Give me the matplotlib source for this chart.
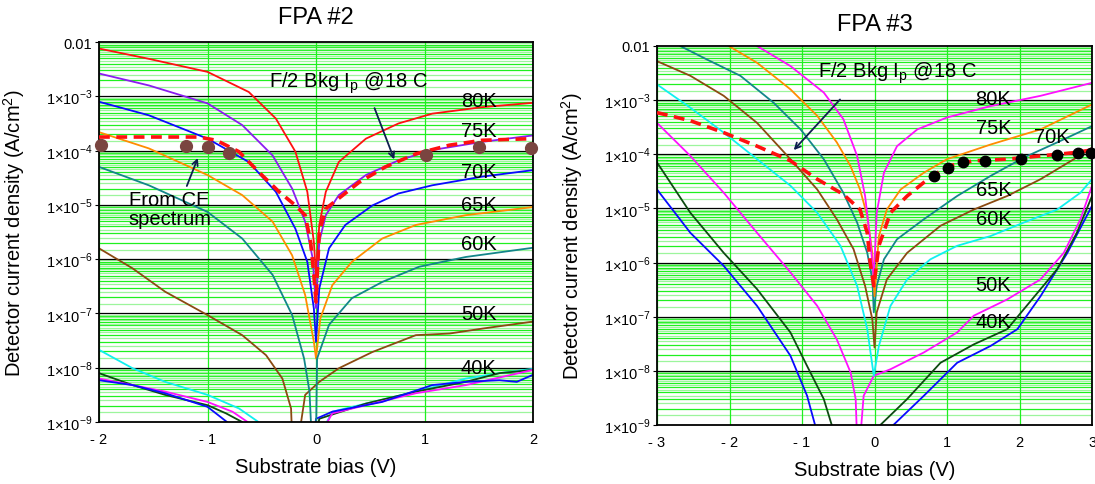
#!/usr/bin/env python3
"""Dark current vs substrate bias for FPA #2 and FPA #3."""

import matplotlib
matplotlib.use("Agg")
import matplotlib.pyplot as plt
import numpy as np

plt.rcParams["font.family"] = ["Liberation Sans", "DejaVu Sans"]
plt.rcParams["mathtext.fontset"] = "custom"
plt.rcParams["mathtext.rm"] = "Liberation Sans"

# ---- FPA #2 curves: bias (V) and log10 current density (A/cm^2) ----
FPA2_80K_V = [-2.0, -1.54, -1.0, -0.62, -0.37, -0.19, -0.08, -0.02, 0.0, 0.03, 0.09, 0.21, 0.46, 0.76, 1.07, 1.53, 2.0]
FPA2_80K_LOGJ = [-2.12, -2.31, -2.55, -2.92, -3.41, -4.02, -4.76, -5.68, -6.3, -5.37, -4.76, -4.21, -3.78, -3.50, -3.32, -3.20, -3.12]
FPA2_75K_V = [-2.0, -1.54, -1.0, -0.68, -0.40, -0.22, -0.10, -0.03, 0.0, 0.03, 0.09, 0.21, 0.46, 0.76, 1.07, 1.53, 2.0]
FPA2_75K_LOGJ = [-2.58, -2.80, -3.13, -3.53, -4.09, -4.70, -5.31, -5.99, -6.9, -5.68, -5.19, -4.82, -4.45, -4.18, -3.99, -3.84, -3.72]
FPA2_70K_V = [-2.0, -1.54, -1.0, -0.62, -0.37, -0.19, -0.08, -0.02, 0.0, 0.03, 0.12, 0.27, 0.52, 0.76, 1.07, 1.53, 2.0]
FPA2_70K_LOGJ = [-3.10, -3.35, -3.78, -4.21, -4.76, -5.44, -6.05, -6.91, -7.52, -6.54, -5.80, -5.37, -5.01, -4.79, -4.64, -4.48, -4.36]
FPA2_65K_V = [-2.0, -1.54, -1.0, -0.68, -0.40, -0.22, -0.10, -0.02, 0.0, 0.04, 0.15, 0.33, 0.61, 0.92, 1.38, 2.0]
FPA2_65K_LOGJ = [-3.66, -3.96, -4.45, -4.82, -5.31, -5.93, -6.66, -7.52, -7.83, -7.09, -6.48, -6.05, -5.62, -5.37, -5.19, -5.04]
FPA2_60K_V = [-2.0, -1.54, -1.0, -0.68, -0.40, -0.22, -0.11, -0.06, -0.04, -0.03, 0.0, 0.01, 0.12, 0.33, 0.61, 0.95, 1.38, 2.0]
FPA2_60K_LOGJ = [-4.30, -4.64, -5.13, -5.62, -6.29, -7.03, -7.83, -8.44, -9.3, -9.3, -9.3, -7.83, -7.21, -6.72, -6.42, -6.14, -5.96, -5.79]
FPA2_50K_V = [-2.0, -1.69, -1.39, -1.0, -0.68, -0.46, -0.31, -0.23, -0.22, -0.16, -0.10, 0.03, 0.21, 0.52, 0.92, 1.23, 1.53, 2.0]
FPA2_50K_LOGJ = [-5.80, -6.17, -6.60, -7.03, -7.40, -7.77, -8.20, -8.75, -9.3, -9.3, -8.50, -8.26, -8.01, -7.71, -7.40, -7.37, -7.28, -7.15]
FPA2_CYAN_V = [-2.0, -1.69, -1.39, -1.0, -0.71, -0.53, -0.50, 0.02, 0.15, 0.46, 0.92, 1.38, 1.69, 2.0]
FPA2_CYAN_LOGJ = [-7.67, -8.01, -8.26, -8.50, -8.75, -9.0, -9.3, -9.3, -8.81, -8.66, -8.44, -8.20, -8.10, -8.02]
FPA2_MAGENTA_V = [-2.0, -1.69, -1.39, -1.0, -0.77, -0.63, -0.60, 0.02, 0.15, 0.46, 0.92, 1.38, 2.0]
FPA2_MAGENTA_LOGJ = [-8.20, -8.32, -8.44, -8.63, -8.81, -9.0, -9.3, -9.3, -8.84, -8.69, -8.47, -8.32, -8.04]
FPA2_DKGREEN_V = [-2.0, -1.69, -1.39, -1.0, -0.83, -0.68, -0.65, 0.0, 0.03, 0.46, 0.92, 1.38, 1.69, 2.0]
FPA2_DKGREEN_LOGJ = [-8.10, -8.32, -8.50, -8.69, -8.84, -9.0, -9.3, -9.3, -8.94, -8.66, -8.44, -8.26, -8.10, -8.04]
FPA2_BLUE_V = [-2.0, -1.69, -1.39, -1.0, -0.82, -0.80, -0.02, 0.0, 0.15, 0.61, 1.07, 1.38, 1.69, 1.85, 2.0]
FPA2_BLUE_LOGJ = [-8.23, -8.32, -8.47, -8.72, -9.0, -9.3, -9.3, -8.94, -8.81, -8.63, -8.32, -8.26, -8.23, -8.26, -8.13]
FPA2_BKG_V = [-2.0, -1.08, -0.92, -0.71, -0.53, -0.34, -0.19, -0.10, -0.05, -0.02, 0.0, 0.03, 0.09, 0.21, 0.40, 0.64, 0.92, 1.23, 1.53, 2.0]
FPA2_BKG_LOGJ = [-3.75, -3.75, -3.81, -4.02, -4.39, -4.76, -5.01, -5.19, -5.68, -6.29, -6.79, -5.50, -5.07, -4.88, -4.58, -4.30, -4.06, -3.90, -3.81, -3.78]
FPA2_CE_V = [-1.98, -1.20, -1.0, -0.80, 1.01, 1.50, 1.98]
FPA2_CE_LOGJ = [-3.90, -3.91, -3.93, -4.04, -4.09, -3.94, -3.95]

# ---- FPA #3 curves ----
FPA3_80K_V = [-1.62, -1.16, -0.70, -0.43, -0.24, -0.13, -0.06, -0.01, 0.03, 0.13, 0.31, 0.59, 1.0, 1.60, 2.29, 3.0]
FPA3_80K_LOGJ = [-2.0, -2.37, -2.86, -3.35, -4.03, -4.77, -5.57, -6.31, -5.08, -4.34, -3.85, -3.54, -3.32, -3.11, -2.92, -2.68]
FPA3_75K_V = [-2.01, -1.62, -1.16, -0.79, -0.52, -0.33, -0.20, -0.10, -0.03, 0.0, 0.06, 0.17, 0.36, 0.68, 1.0, 1.60, 2.29, 3.0]
FPA3_75K_LOGJ = [-2.0, -2.31, -2.80, -3.29, -3.78, -4.22, -4.65, -5.14, -5.82, -6.62, -5.51, -5.02, -4.65, -4.34, -4.09, -3.82, -3.54, -3.08]
FPA3_70K_V = [-2.68, -2.31, -1.85, -1.39, -1.02, -0.70, -0.43, -0.24, -0.10, -0.03, -0.01, 0.03, 0.13, 0.31, 0.68, 1.14, 1.60, 2.06, 2.52, 3.0]
FPA3_70K_LOGJ = [-2.0, -2.25, -2.55, -3.05, -3.54, -4.09, -4.71, -5.26, -5.82, -6.31, -6.92, -6.43, -5.94, -5.57, -5.20, -4.77, -4.40, -4.06, -3.78, -3.48]
FPA3_65K_V = [-3.0, -2.54, -2.08, -1.62, -1.16, -0.79, -0.52, -0.29, -0.13, -0.03, 0.0, 0.03, 0.17, 0.45, 0.91, 1.37, 1.83, 2.29, 2.75, 3.0]
FPA3_65K_LOGJ = [-2.28, -2.55, -2.92, -3.42, -4.09, -4.65, -5.20, -5.75, -6.43, -7.05, -7.57, -6.92, -6.31, -5.82, -5.32, -5.02, -4.77, -4.46, -4.09, -3.88]
FPA3_60K_V = [-3.0, -2.54, -2.08, -1.62, -1.16, -0.79, -0.47, -0.24, -0.10, -0.01, 0.06, 0.22, 0.45, 0.77, 1.14, 1.60, 2.06, 2.52, 2.84, 3.0]
FPA3_60K_LOGJ = [-2.71, -3.14, -3.60, -4.09, -4.58, -5.08, -5.69, -6.43, -7.23, -8.09, -7.54, -6.80, -6.31, -5.94, -5.69, -5.51, -5.26, -5.02, -4.71, -4.46]
FPA3_50K_V = [-3.0, -2.54, -2.08, -1.62, -1.16, -0.79, -0.52, -0.33, -0.26, -0.24, -0.20, -0.15, -0.01, 0.22, 0.68, 1.14, 1.37, 1.83, 2.29, 2.61, 2.84, 3.0]
FPA3_50K_LOGJ = [-3.42, -4.03, -4.71, -5.45, -6.18, -6.80, -7.42, -8.03, -8.52, -9.3, -9.3, -8.46, -8.09, -7.97, -7.66, -7.29, -6.98, -6.68, -6.31, -5.82, -5.20, -4.58]
FPA3_40K_V = [-3.0, -2.54, -2.08, -1.62, -1.16, -0.93, -0.70, -0.59, -0.55, 0.03, 0.08, 0.45, 0.91, 1.37, 1.83, 2.06, 2.52, 2.79, 3.0]
FPA3_40K_LOGJ = [-4.15, -5.08, -5.82, -6.49, -7.29, -7.91, -8.52, -9.0, -9.3, -9.3, -9.0, -8.52, -7.85, -7.51, -7.23, -6.86, -6.12, -5.45, -4.77]
FPA3_BLUE_V = [-3.0, -2.54, -2.08, -1.62, -1.16, -0.93, -0.82, -0.78, 0.20, 0.26, 0.68, 1.14, 1.60, 1.97, 2.29, 2.66, 3.0]
FPA3_BLUE_LOGJ = [-4.65, -5.45, -6.06, -6.80, -7.72, -8.46, -9.0, -9.3, -9.3, -9.0, -8.46, -7.85, -7.54, -7.23, -6.62, -5.82, -4.95]
FPA3_BKG_V = [-3.0, -2.54, -2.08, -1.62, -1.16, -0.79, -0.43, -0.20, -0.10, -0.06, -0.01, 0.06, 0.22, 0.45, 0.68, 1.0, 1.37, 1.83, 2.29, 2.75, 3.0]
FPA3_BKG_LOGJ = [-3.23, -3.38, -3.60, -3.85, -4.12, -4.46, -4.74, -5.02, -5.45, -6.0, -6.43, -5.69, -5.08, -4.77, -4.52, -4.22, -4.12, -4.09, -4.03, -3.97, -3.92]
FPA3_CE_V = [0.82, 1.02, 1.22, 1.53, 2.02, 2.52, 2.81, 2.98]
FPA3_CE_LOGJ = [-4.41, -4.26, -4.15, -4.12, -4.08, -4.02, -3.98, -3.97]

# temperature labels: (text, bias, log10 J)
FPA2_LABELS = [("80K", 1.50, -3.07), ("75K", 1.50, -3.63), ("70K", 1.50, -4.39),
               ("65K", 1.50, -4.99), ("60K", 1.50, -5.71), ("50K", 1.50, -7.0),
               ("40K", 1.50, -7.99)]
FPA3_LABELS = [("80K", 1.64, -2.97), ("75K", 1.64, -3.50), ("70K", 2.45, -3.68),
               ("65K", 1.64, -4.65), ("60K", 1.64, -5.19), ("50K", 1.64, -6.40),
               ("40K", 1.64, -7.08)]

Y_TICKS = [1e-9, 1e-8, 1e-7, 1e-6, 1e-5, 1e-4, 1e-3, 1e-2]
Y_TICK_LABELS = [r"1$\times$10$^{-9}$", r"1$\times$10$^{-8}$", r"1$\times$10$^{-7}$",
                 r"1$\times$10$^{-6}$", r"1$\times$10$^{-5}$", r"1$\times$10$^{-4}$",
                 r"1$\times$10$^{-3}$", "0.01"]

RED = "#ff1010"
PURPLE = "#8a1cf0"
BLUE = "#0a0aff"
ORANGE = "#ff8c00"
TEAL = "#13868a"
BROWN = "#8b4a12"
CYAN = "#10f0f0"
MAGENTA = "#ff10ff"
DKGREEN = "#0e4a12"
NAVY = "#0d1f4f"
BKG_TEXT = r"F/2 Bkg I$_\mathregular{p}$ @18 C"
TXT = 14.5


def J(logj):
    return np.power(10.0, logj)


def style_axes(ax, xlim, xticks):
    ax.set_yscale("log")
    ax.set_xlim(*xlim)
    ax.set_ylim(1e-9, 1e-2)
    # dense green decade grid, black lines at each decade
    for dec in range(-9, -2):
        for m in np.arange(1.5, 10.0, 0.5):
            if m == int(m):
                ax.axhline(m * 10.0 ** dec, color="#1ff01f", lw=0.9, zorder=0)
            else:
                ax.axhline(m * 10.0 ** dec, color="#9cf59c", lw=0.9, zorder=0)
    for dec in range(-8, -2):
        ax.axhline(10.0 ** dec, color="black", lw=0.9, zorder=0.5)
    for xv in xticks:
        ax.axvline(xv, color="#1ff01f", lw=0.9, zorder=0)
    ax.set_xticks(xticks)
    ax.set_xticklabels([("- %d" % -v) if v < 0 else "%d" % v for v in xticks], fontsize=10.5)
    ax.set_yticks(Y_TICKS)
    ax.set_yticklabels(Y_TICK_LABELS, fontsize=10.5)
    ax.minorticks_off()
    ax.tick_params(axis="x", length=0, pad=7)
    ax.tick_params(axis="y", length=3, pad=2)
    for sp in ax.spines.values():
        sp.set_linewidth(1.3)
    ax.set_xlabel("Substrate bias (V)", fontsize=TXT)
    ax.set_ylabel("Detector current density (A/cm$^\\mathregular{2}$)", fontsize=TXT)
    ax.xaxis.set_label_coords(0.5, -0.092)
    ax.yaxis.set_label_coords(-0.165, 0.5)


def line(ax, v, logj, color, lw=1.3, **kw):
    ax.plot(v, J(logj), color=color, lw=lw, solid_joinstyle="round", **kw)


def bkg(ax, v, logj):
    ax.plot(v, J(logj), color=RED, lw=2.6, dashes=(3.0, 1.8), zorder=4)


def main():
    fig = plt.figure(figsize=(10.95, 4.85), dpi=100)
    ax2 = fig.add_axes([0.0904, 0.1278, 0.3964, 0.7835])
    ax3 = fig.add_axes([0.6, 0.1216, 0.3973, 0.7815])

    # FPA #2
    style_axes(ax2, (-2, 2), [-2, -1, 0, 1, 2])
    line(ax2, FPA2_80K_V, FPA2_80K_LOGJ, RED)
    line(ax2, FPA2_75K_V, FPA2_75K_LOGJ, PURPLE)
    line(ax2, FPA2_70K_V, FPA2_70K_LOGJ, BLUE)
    line(ax2, FPA2_65K_V, FPA2_65K_LOGJ, ORANGE)
    line(ax2, FPA2_50K_V, FPA2_50K_LOGJ, BROWN)
    line(ax2, FPA2_CYAN_V, FPA2_CYAN_LOGJ, CYAN)
    line(ax2, FPA2_DKGREEN_V, FPA2_DKGREEN_LOGJ, DKGREEN)
    line(ax2, FPA2_MAGENTA_V, FPA2_MAGENTA_LOGJ, MAGENTA)
    line(ax2, FPA2_BLUE_V, FPA2_BLUE_LOGJ, BLUE)
    line(ax2, FPA2_60K_V, FPA2_60K_LOGJ, TEAL)
    bkg(ax2, FPA2_BKG_V, FPA2_BKG_LOGJ)
    ax2.plot(FPA2_CE_V, J(FPA2_CE_LOGJ), "o", color="#7a4540", ms=8.5, zorder=5, clip_on=False)
    for text, xv, ly in FPA2_LABELS:
        ax2.text(xv, 10.0 ** ly, text, fontsize=TXT, ha="center", va="center", zorder=6)
    ax2.text(0.30, 10.0 ** -2.74, BKG_TEXT, fontsize=TXT, ha="center", va="center")
    ax2.annotate("", xy=(0.73, 10.0 ** -4.21), xytext=(0.53, 10.0 ** -3.17),
                 arrowprops=dict(arrowstyle="->", color=NAVY, lw=1.3), zorder=6)
    ax2.text(-1.35, 10.0 ** -5.07, "From CE\nspectrum", fontsize=TXT, ha="center",
             va="center", linespacing=1.0)
    ax2.annotate("", xy=(-1.08, 10.0 ** -4.09), xytext=(-1.20, 10.0 ** -4.70),
                 arrowprops=dict(arrowstyle="->", color=NAVY, lw=1.3), zorder=6)
    ax2.set_title("FPA #2", fontsize=17, y=1.066, va="center", pad=0)

    # FPA #3
    style_axes(ax3, (-3, 3), [-3, -2, -1, 0, 1, 2, 3])
    line(ax3, FPA3_BLUE_V, FPA3_BLUE_LOGJ, BLUE)
    line(ax3, FPA3_40K_V, FPA3_40K_LOGJ, DKGREEN)
    line(ax3, FPA3_50K_V, FPA3_50K_LOGJ, MAGENTA)
    line(ax3, FPA3_60K_V, FPA3_60K_LOGJ, CYAN)
    line(ax3, FPA3_65K_V, FPA3_65K_LOGJ, BROWN)
    line(ax3, FPA3_70K_V, FPA3_70K_LOGJ, TEAL)
    line(ax3, FPA3_75K_V, FPA3_75K_LOGJ, ORANGE)
    line(ax3, FPA3_80K_V, FPA3_80K_LOGJ, MAGENTA)
    bkg(ax3, FPA3_BKG_V, FPA3_BKG_LOGJ)
    ax3.plot(FPA3_CE_V, J(FPA3_CE_LOGJ), "o", color="black", ms=7.5, zorder=5, clip_on=False)
    for text, xv, ly in FPA3_LABELS:
        ax3.text(xv, 10.0 ** ly, text, fontsize=TXT, ha="center", va="center", zorder=6)
    ax3.text(0.31, 10.0 ** -2.49, BKG_TEXT, fontsize=TXT, ha="center", va="center")
    ax3.annotate("", xy=(-1.14, 10.0 ** -3.96), xytext=(-0.45, 10.0 ** -2.95),
                 arrowprops=dict(arrowstyle="->", color=NAVY, lw=1.3), zorder=6)
    ax3.set_title("FPA #3", fontsize=17, y=1.057, va="center", pad=0)

    fig.savefig("out.png", dpi=100)
    plt.close(fig)


if __name__ == "__main__":
    main()
